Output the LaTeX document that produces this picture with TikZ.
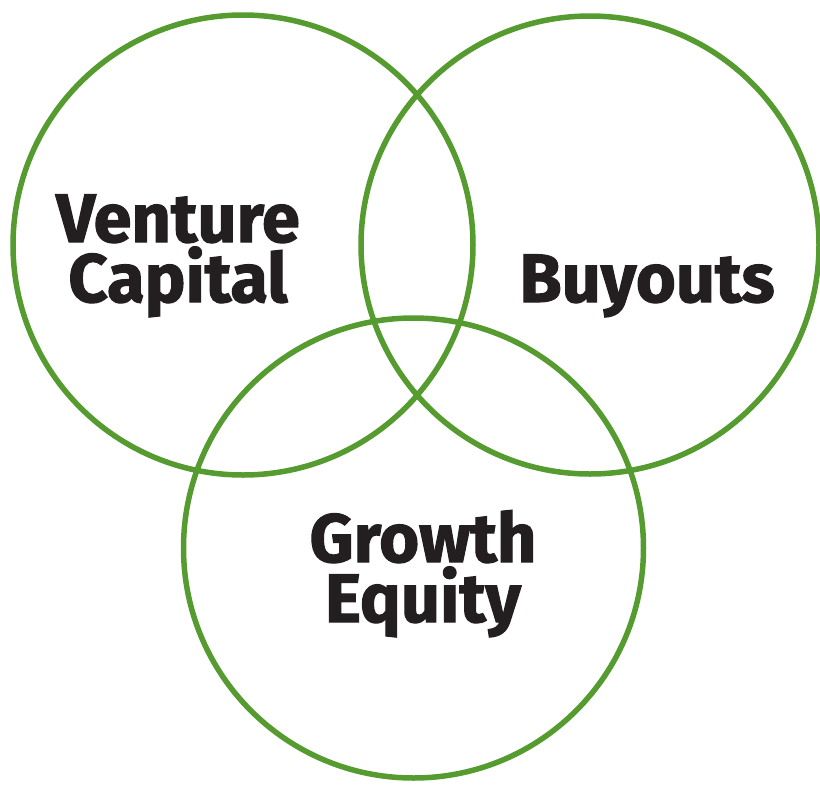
\documentclass[tikz,border=0pt]{standalone}
\usepackage{fontspec}
\setmainfont{Fira Sans}[BoldFeatures={FakeBold=1.6}]
\definecolor{ring}{HTML}{559B2F}
\definecolor{ink}{HTML}{231F20}
\begin{document}
\begin{tikzpicture}[x=1pt,y=-1pt,
  ringstyle/.style={draw=ring,line width=5.5pt},
  lbl/.style={anchor=base,inner sep=0pt,text=ink,align=center,
    font=\fontsize{68.5}{60}\selectfont\bfseries}]
\useasboundingbox (0,0) rectangle (820,785);
\draw[ringstyle] (243,245) circle (230);
\draw[ringstyle] (590,245) circle (229);
\draw[ringstyle] (413.5,548) circle (230);
\node[lbl] (vc) at (178,302) {Venture\\Capital};
\node[lbl] (bo) at (647,302) {Buyouts};
\node[lbl] (ge) at (423,622) {Growth\\Equity};
\end{tikzpicture}
\end{document}
